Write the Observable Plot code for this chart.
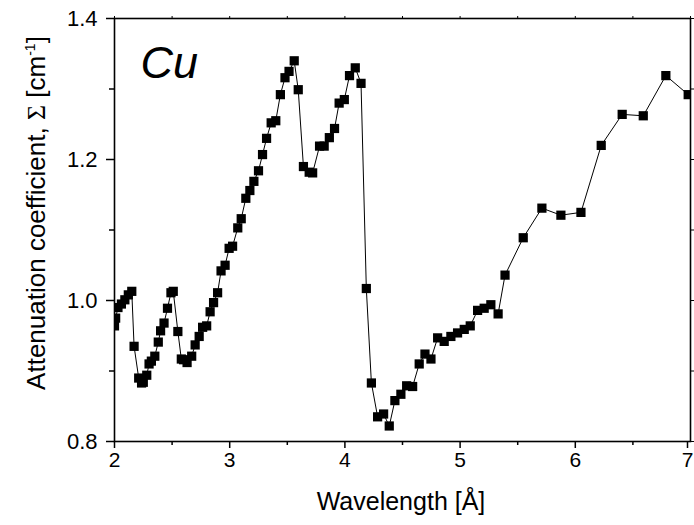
<!DOCTYPE html>
<html>
<head>
<meta charset="utf-8">
<script src="https://cdn.jsdelivr.net/npm/d3@7"></script>
<script src="https://cdn.jsdelivr.net/npm/@observablehq/plot@0.6"></script>
<style>
  html, body { margin: 0; padding: 0; background: #fff; }
  #chart { width: 694px; height: 525px; }
</style>
</head>
<body>
<div id="chart"></div>
<script>
const wavelength = [
  2.00, 2.01, 2.03, 2.06, 2.09, 2.12, 2.15, 2.17, 2.21, 2.235,
  2.25, 2.28, 2.30, 2.32, 2.35, 2.38, 2.40, 2.43, 2.46, 2.49,
  2.51, 2.55, 2.58, 2.60, 2.63, 2.67, 2.70, 2.735, 2.765, 2.80,
  2.83, 2.86, 2.895, 2.925, 2.96, 2.995, 3.025, 3.07, 3.10, 3.14,
  3.175, 3.21, 3.25, 3.285, 3.32, 3.36, 3.40, 3.44, 3.48, 3.515,
  3.56, 3.595, 3.64, 3.69, 3.72, 3.78, 3.82, 3.865, 3.91, 3.95,
  3.995, 4.04, 4.09, 4.14, 4.186, 4.23, 4.284, 4.336, 4.385, 4.434,
  4.486, 4.536, 4.588, 4.645, 4.695, 4.747, 4.805, 4.862, 4.92, 4.978,
  5.036, 5.088, 5.152, 5.209, 5.267, 5.33, 5.39, 5.548, 5.71, 5.875,
  6.049, 6.225, 6.407, 6.59, 6.786, 6.98
];
const sigma = [
  0.964, 0.975, 0.990, 0.995, 1.001, 1.008, 1.013, 0.935, 0.890, 0.883,
  0.884, 0.894, 0.910, 0.914, 0.921, 0.941, 0.957, 0.968, 0.989, 1.011,
  1.013, 0.956, 0.917, 0.916, 0.912, 0.921, 0.937, 0.949, 0.962, 0.964,
  0.984, 0.997, 1.011, 1.042, 1.050, 1.074, 1.077, 1.103, 1.116, 1.145,
  1.156, 1.169, 1.184, 1.207, 1.230, 1.252, 1.255, 1.292, 1.316, 1.325,
  1.340, 1.299, 1.190, 1.182, 1.181, 1.219, 1.219, 1.231, 1.244, 1.280,
  1.285, 1.319, 1.330, 1.308, 1.017, 0.883, 0.835, 0.839, 0.822, 0.858,
  0.867, 0.879, 0.878, 0.910, 0.924, 0.917, 0.947, 0.942, 0.949, 0.954,
  0.959, 0.964, 0.986, 0.989, 0.994, 0.981, 1.036, 1.089, 1.131, 1.121,
  1.125, 1.220, 1.264, 1.262, 1.319, 1.292
];
const xMajor = [2, 3, 4, 5, 6, 7];
const xMinor = [2.5, 3.5, 4.5, 5.5, 6.5];
const yMajor = [0.8, 1.0, 1.2, 1.4];
const yMinor = [0.9, 1.1, 1.3];
const sampleLabel = ["Cu"];

const data = wavelength.map((w, i) => ({w, s: sigma[i]}));
const font = "'Liberation Sans', Arial, sans-serif";

const chart = Plot.plot({
  width: 694,
  height: 525,
  marginLeft: 114,
  marginRight: 4,
  marginTop: 18,
  marginBottom: 84,
  style: {fontFamily: font, fontSize: "21px", color: "#000", background: "#fff"},
  x: {domain: [2, 7]},
  y: {domain: [0.8, 1.4]},
  marks: [
    Plot.line(data, {x: "w", y: "s", stroke: "#000", strokeWidth: 1, clip: true}),
    Plot.dot(data, {x: "w", y: "s", symbol: "square", r: 5.2, fill: "#000", stroke: "none", clip: true}),
    Plot.axisX(xMajor.slice(0, -1), {anchor: "bottom", tickSize: 7, tickPadding: 4, strokeWidth: 1.5, tickFormat: d3.format("d"), fontSize: 21, label: null}),
    Plot.axisX(xMajor.slice(-1), {anchor: "bottom", tickSize: 7, tickPadding: 4, strokeWidth: 1.5, tickFormat: d3.format("d"), fontSize: 21, dx: -3, label: null}),
    Plot.axisX(xMinor, {anchor: "bottom", tickSize: 4, strokeWidth: 1.5, text: null, label: null}),
    Plot.axisX(xMajor.concat(xMinor), {anchor: "top", tickSize: 3, strokeWidth: 1, text: null, label: null}),
    Plot.axisY(yMajor, {anchor: "left", tickSize: 8, tickPadding: 9, strokeWidth: 1.5, tickFormat: d3.format(".1f"), fontSize: 22, label: null}),
    Plot.axisY(yMinor, {anchor: "left", tickSize: 5, strokeWidth: 1.5, text: null, label: null}),
    Plot.axisY(yMajor.concat(yMinor), {anchor: "right", tickSize: 3, strokeWidth: 1, text: null, label: null}),
    Plot.frame({stroke: "#000", strokeWidth: 1.6}),
    Plot.text(sampleLabel, {frameAnchor: "top-left", dx: 26, dy: 28, text: d => d, fontSize: 45, fontStyle: "italic", textAnchor: "start", lineAnchor: "top", fill: "#000"})
  ]
});

document.getElementById("chart").appendChild(chart);

// axis titles
const svg = d3.select(chart);
svg.append("text")
  .attr("x", 401).attr("y", 510)
  .attr("text-anchor", "middle")
  .attr("font-size", 25)
  .attr("font-family", font)
  .attr("fill", "#000")
  .text("Wavelength [Å]");

const yt = svg.append("text")
  .attr("transform", "translate(45,213) rotate(-90)")
  .attr("text-anchor", "middle")
  .attr("font-size", 26)
  .attr("font-family", font)
  .attr("fill", "#000");
yt.append("tspan").text("Attenuation coefficient, ");
yt.append("tspan").attr("font-family", "'Liberation Serif', 'Times New Roman', serif").text("Σ");
yt.append("tspan").text(" [cm");
yt.append("tspan").attr("font-size", 14).attr("dy", -10).text("-1");
yt.append("tspan").attr("dy", 10).text("]");
</script>
</body>
</html>
